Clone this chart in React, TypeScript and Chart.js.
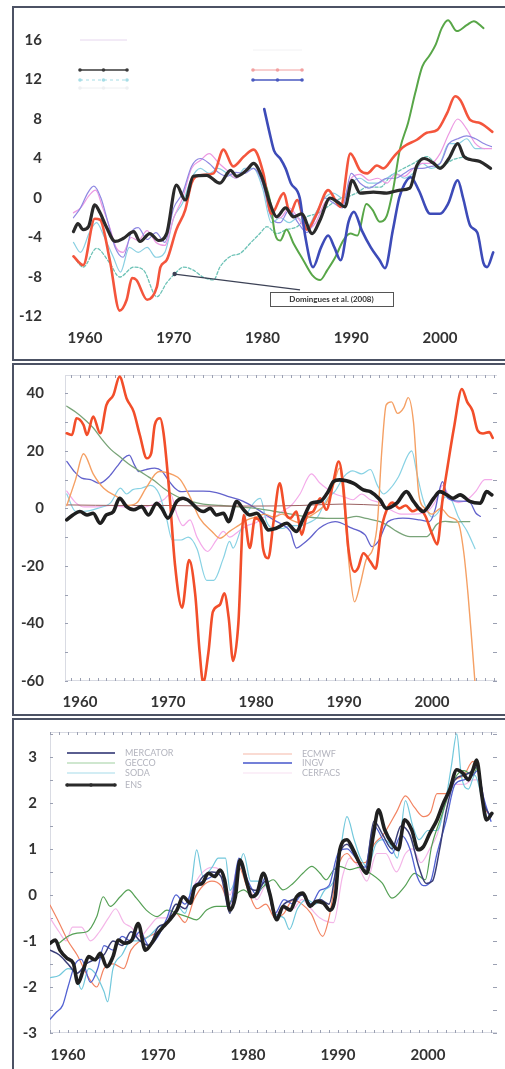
import React, { useEffect, useRef } from "react";
import { Chart, registerables } from "chart.js";

Chart.register(...registerables);

type Pt = [number, number];

// ================= Panel 1 =================
const P1_X_TICKS = [1960, 1970, 1980, 1990, 2000];
const P1_Y_TICKS = [-12, -8, -4, 0, 4, 8, 12, 16];

const P1_ENS: Pt[] = [[1958.7,-3.4],[1959.2,-2.6],[1959.8,-3.2],[1960.4,-2.9],[1961.1,-0.7],[1961.7,-1.5],[1962.4,-2.9],[1963.4,-4.4],[1964.3,-4.1],[1965.5,-3.4],[1966.2,-4.4],[1967.3,-3.6],[1968.3,-4.3],[1969.2,-3.6],[1970.3,1.3],[1971.3,-0.2],[1972.2,2.2],[1973.7,2.3],[1975.2,1.5],[1976.4,2.8],[1977.1,2.2],[1978.2,2.8],[1979,3.5],[1979.9,2.2],[1980.9,-0.7],[1981.6,-1.9],[1982.6,-1.0],[1983.5,-1.9],[1984.4,-1.6],[1985.6,-3.6],[1986.5,-2.2],[1987.6,0],[1988.6,-0.5],[1989.3,-0.9],[1990.1,1.8],[1991,0.5],[1992.5,0.6],[1994,0.5],[1995.5,0.8],[1996.6,1.0],[1997.4,3.3],[1998.2,4.0],[1999.3,3.5],[2000,3.0],[2001,4.0],[2002,5.5],[2002.7,4.2],[2003.4,3.9],[2004.5,3.7],[2005.7,3.0]];
const P1_RED: Pt[] = [[1958.7,-5.9],[1959.8,-6.8],[1961.1,-2.1],[1961.7,-2.2],[1962.8,-6.3],[1963.9,-11.4],[1964.7,-10.3],[1965.3,-8.1],[1965.8,-8.3],[1967,-10.3],[1968.1,-9.0],[1968.5,-7.0],[1969.2,-6.3],[1970.3,-3.2],[1971.3,-1.2],[1972,1.5],[1973,2.3],[1974.5,2.5],[1975.6,4.9],[1976.7,3.2],[1977.9,4.2],[1979,4.9],[1980.1,2.5],[1981,-1.6],[1982.4,0.5],[1983.1,-1.6],[1983.9,-0.2],[1985,-3.2],[1986.1,-1.6],[1987.4,0.8],[1988.8,-0.9],[1989.9,4.5],[1991,2.8],[1991.8,2.5],[1992.9,3.3],[1993.6,3.0],[1994.8,4.2],[1995.9,5.2],[1997.4,5.9],[1998.5,6.6],[1999.7,6.9],[2000.8,8.6],[2001.7,10.3],[2002.3,9.9],[2003.4,7.9],[2004.5,7.6],[2005.9,6.7]];
const P1_GREEN: Pt[] = [[1979.5,3.0],[1980.3,1.5],[1980.9,-0.5],[1981.4,-3.6],[1982,-4.3],[1982.7,-3.2],[1983.5,-4.6],[1984.6,-6.3],[1985.6,-7.8],[1986.5,-8.3],[1987.3,-7.3],[1988.2,-6.0],[1989.1,-4.3],[1989.9,-3.6],[1990.7,-3.8],[1991.7,-0.6],[1992.4,-1.2],[1993.2,-2.4],[1994,-1.8],[1994.7,0.8],[1995.5,5.0],[1996.4,7.6],[1997.2,10.6],[1998,13.3],[1998.8,14.4],[1999.5,15.5],[2000.2,17.2],[2000.9,18.0],[2001.9,16.9],[2003,17.5],[2003.8,17.9],[2004.9,17.2]];
const P1_BLUE: Pt[] = [[1980.2,9.0],[1980.8,6.6],[1981.3,4.8],[1982,4.0],[1982.6,3.0],[1983.2,1.5],[1984.2,0.0],[1984.8,-3.8],[1985.7,-7.0],[1986.6,-5.0],[1987.4,-3.8],[1988.1,-5.0],[1988.8,-6.3],[1989.7,-2.4],[1990.3,-1.4],[1991.2,-3.3],[1992.2,-5.0],[1993.2,-6.3],[1993.8,-7.1],[1994.7,-3.2],[1995.4,0.0],[1996,1.4],[1996.7,2.1],[1997.6,0.8],[1998.9,-1.6],[2000,-1.6],[2000.9,-0.6],[2002,1.8],[2002.6,0.0],[2003.4,-2.8],[2004.2,-3.5],[2004.9,-6.6],[2005.3,-7.0],[2006,-5.5]];
const P1_PINK: Pt[] = [[1958.7,-1.5],[1959.5,-1.0],[1960.5,0.3],[1961.2,0.8],[1962,-1.0],[1962.8,-3.0],[1963.5,-5.0],[1964.3,-5.5],[1965.2,-4.0],[1966,-4.3],[1967,-3.3],[1968,-4.5],[1969,-4.8],[1970,-2.0],[1971,0.0],[1972,3.0],[1973,3.8],[1974,4.5],[1975,3.6],[1976,2.8],[1977,2.0],[1978,2.8],[1979,3.5],[1980,2.0],[1981,-1.5],[1982,-2.0],[1983,-1.0],[1984,-2.0],[1985,-3.2],[1986,-2.5],[1987,-0.5],[1988,0.0],[1989,-0.6],[1990,2.0],[1991,2.4],[1992,1.8],[1993,2.0],[1994,1.5],[1995,2.4],[1996,2.2],[1997,3.0],[1998,3.5],[1999,3.5],[2000,4.5],[2001,6.5],[2002,8.0],[2003,7.0],[2004,5.5],[2005,5.0],[2005.8,5.0]];
const P1_PURPLE: Pt[] = [[1958.7,-2.0],[1959.5,-1.0],[1960.3,0.5],[1961,1.2],[1961.8,0.0],[1962.6,-2.5],[1963.4,-5.0],[1964.3,-6.0],[1965.2,-3.5],[1966,-3.0],[1967,-4.2],[1968,-3.5],[1969,-4.5],[1970,-1.0],[1971,0.5],[1972,3.2],[1973,4.0],[1974,3.5],[1975,2.6],[1976,2.2],[1977,2.6],[1978,2.5],[1979,3.0],[1980,1.5],[1981,-2.0],[1982,-2.5],[1983,-1.2],[1984,-2.5],[1985,-3.5],[1986,-2.0],[1987,0.0],[1988,-0.5],[1989,-1.0],[1990,2.5],[1991,1.5],[1992,1.0],[1993,1.5],[1994,2.0],[1995,2.0],[1996,2.5],[1997,3.0],[1998,3.0],[1999,3.2],[2000,3.5],[2001,5.5],[2002,6.0],[2003,6.3],[2004,6.0],[2005,5.5],[2005.8,5.2]];
const P1_CYAN: Pt[] = [[1958.7,-4.5],[1959.5,-5.5],[1960.5,-3.5],[1961.3,-2.5],[1962.2,-4.0],[1963.2,-6.0],[1964,-7.5],[1965,-5.0],[1966,-5.5],[1967,-5.0],[1968,-6.0],[1969,-5.5],[1970,-2.0],[1971,-0.5],[1972,2.0],[1973,3.0],[1974,2.5],[1975,3.0],[1976,2.5],[1977,2.0],[1978,3.0],[1979,3.0],[1980,1.0],[1981,-2.5],[1982,-2.0],[1983,-2.5],[1984,-2.0],[1985,-3.0],[1986,-1.5],[1987,0.0],[1988,0.5],[1989,0.0],[1990,1.5],[1991,2.0],[1992,1.5],[1993,1.5],[1994,2.0],[1995,2.5],[1996,2.0],[1997,2.5],[1998,3.5],[1999,3.0],[2000,3.5],[2001,5.5],[2002,5.5],[2003,6.0],[2004,5.0],[2005,5.0]];
const P1_OBS: Pt[] = [[1958.7,-5.9],[1959.8,-7.0],[1961.3,-5.1],[1962.8,-6.6],[1963.9,-8.0],[1965.5,-7.0],[1966.6,-7.3],[1968.1,-10.0],[1969.2,-8.6],[1970.2,-7.6],[1971.1,-7.0],[1972.2,-7.3],[1973.3,-8.0],[1974.5,-8.3],[1975.2,-7.0],[1976.4,-5.9],[1977.5,-5.6],[1978.6,-4.6],[1979.7,-3.6],[1980.5,-2.9],[1981.6,-3.6],[1982.7,-3.2],[1983.9,-2.9],[1985,-1.9],[1986.1,-1.6],[1987.3,-0.9],[1988.4,-0.2],[1989.5,0.1],[1990.6,0.5],[1991.8,1.1],[1993.3,1.1],[1994.4,2.2],[1995.5,2.8],[1997,3.5],[1998.5,4.2],[2000,3.2],[2001.5,3.9],[2003,4.2]];

const P1_NOTE_TEXT = "Domingues et al. (2008)";
const P1_NOTE_POINT: Pt = [1970.1, -7.7];
const P1_NOTE_BOX: Pt = [1980.85, -9.5];

// ================= Panel 2 =================
const P2_X_TICKS = [1960, 1970, 1980, 1990, 2000];
const P2_Y_TICKS = [-60, -40, -20, 0, 20, 40];

const P2_BLACK: Pt[] = [[1958.5,-4.0],[1959.2,-2.3],[1960,-1.1],[1960.8,-2.3],[1961.5,-1.7],[1962.3,-5.2],[1963,-2.3],[1963.8,-1.1],[1964.5,3.5],[1965.3,0.6],[1966.1,-0.5],[1967,0.6],[1967.8,-2.3],[1968.7,1.8],[1969.3,0],[1970,-3.4],[1971,2.4],[1971.7,3.5],[1972.5,2.4],[1973.3,0],[1974,-1.1],[1974.8,0],[1975.5,-2.3],[1976.3,-1.7],[1976.9,-4.6],[1977.8,2.4],[1978.6,-0.5],[1979.3,-2.3],[1980.1,-1.7],[1980.8,-4.6],[1981.4,-7.5],[1982.3,-6.9],[1983.5,-5.2],[1984.6,-8.0],[1985.4,-3.4],[1986.3,1.8],[1987.3,2.4],[1988.2,5.8],[1988.8,9.3],[1989.5,9.9],[1991.1,8.7],[1992.2,6.4],[1993,5.8],[1994.1,3.0],[1994.8,0],[1996,1.8],[1997.1,5.8],[1997.9,2.4],[1999,-1.1],[2000.2,3.5],[2000.9,5.8],[2001.7,4.7],[2002.4,3.5],[2003.2,4.7],[2004.3,2.4],[2005.5,1.8],[2006.2,5.8],[2006.8,4.7]];
const P2_RED: Pt[] = [[1958.5,26.1],[1959.1,25.5],[1959.6,31.3],[1960.4,29],[1960.8,25.5],[1961.5,31.9],[1962.3,26.1],[1963,35.9],[1963.8,39.4],[1964.5,45.8],[1965.3,38.2],[1966.1,33.6],[1966.8,25.5],[1967.6,17.4],[1968.1,19.2],[1968.5,29],[1969.1,31.3],[1969.5,26.1],[1970.2,4.0],[1970.8,-19.6],[1971.6,-34.5],[1972.4,-18.0],[1973.1,-30.0],[1973.6,-50.0],[1974,-60.5],[1974.6,-50.0],[1975.1,-36.0],[1975.9,-33.5],[1976.4,-29.5],[1976.9,-38.0],[1977.4,-53.0],[1978,-40.0],[1978.6,-2.3],[1979.3,-13.8],[1979.9,-3.4],[1980.5,-4.6],[1980.8,-13.8],[1981.4,-17.3],[1982,-4.6],[1982.7,8.7],[1983.3,-1.1],[1983.9,-3.4],[1984.6,-1.1],[1985.2,-9.2],[1985.8,-2.3],[1986.5,-1.1],[1987.3,3.5],[1988,-0.5],[1988.8,9.3],[1989.4,16.3],[1989.9,8.2],[1990.5,-13.8],[1991.2,-22],[1991.6,-20.8],[1992.2,-15.6],[1993,-18.5],[1993.6,-21],[1994.2,-8],[1994.8,-1],[1995.5,2],[1996.3,0],[1997,1],[1997.8,-1],[1998.6,0],[1999.3,-3],[1999.9,-8],[2000.6,-12.5],[2001.2,3],[2001.8,15],[2002.5,28],[2003.4,41.5],[2004,37],[2004.6,34],[2005.2,27],[2005.8,26],[2006.5,26.5],[2006.9,24.5]];
const P2_ORANGE: Pt[] = [[1958.5,1],[1959.5,10],[1960.4,19],[1961.5,12],[1962.7,7],[1964.5,3.5],[1965.5,1],[1966.5,2],[1967.5,7],[1969,12.8],[1970.6,11.6],[1971.4,10],[1972.5,4],[1973.6,-3.4],[1975,-8],[1975.9,-10.4],[1977,-8],[1978,-6],[1979,-4],[1980,-3],[1981,-2],[1982,-3],[1983,-2],[1984,-4],[1985,-5],[1986,-3],[1987,-1],[1988,2],[1988.8,8],[1989.5,14],[1990,2],[1990.6,-20],[1991.2,-32.5],[1991.8,-27],[1992.5,-18],[1993.3,-14],[1993.8,-5],[1994.3,20],[1994.8,36],[1995.4,37],[1996.1,33],[1996.8,35],[1997.3,38.5],[1997.9,30],[1998.5,5],[1999.2,0],[2000,-2],[2001,0],[2002,-3],[2003,-5],[2003.6,-15],[2004.1,-30],[2004.5,-45],[2004.9,-61]];
const P2_GREEN: Pt[] = [[1958.5,35.5],[1959.5,33.5],[1960.5,31],[1961.5,28],[1962.5,24],[1963.5,20.5],[1964.5,18],[1965.5,15.5],[1966.5,13.5],[1967.5,11.5],[1968.5,9.5],[1969.5,7],[1970.5,5],[1971.5,3.5],[1972.5,2.5],[1974,1.5],[1976,1],[1978,0.5],[1980,0],[1982,-1],[1984,-2],[1986,-3],[1988,-3.5],[1990,-3.5],[1991.4,-2.8],[1992.5,-3.5],[1994.1,-4.6],[1995,-6],[1996,-8],[1997.5,-9.8],[1999.4,-9.8],[2000,-8],[2000.5,-5.7],[2001.5,-4.5],[2002.5,-4.8],[2003.5,-4.6],[2004.3,-4.6]];
const P2_BLUE: Pt[] = [[1958.5,16.3],[1959.3,13],[1960.2,10.5],[1961.2,10],[1962.2,8.7],[1963.3,11],[1964.2,14.5],[1965,17.5],[1965.6,18.5],[1966.2,15],[1966.7,12.8],[1967.5,13.5],[1968.5,14],[1969.3,13],[1970,10],[1970.8,7],[1971.5,5.8],[1972.5,6],[1974,6],[1975.5,5.5],[1977,4],[1978.5,2.5],[1980,0],[1981,-2],[1982,-4],[1983.2,-6],[1983.9,-8],[1984.6,-13.8],[1985.3,-12.5],[1986.1,-10.4],[1987.2,-6.9],[1989,-4.6],[1990.9,-6.9],[1992.4,-9.2],[1993.2,-13.3],[1993.9,-11.5],[1995,-4.6],[1996.7,-3.4],[1998.6,-4.0],[1999.7,-4.6],[2000.4,0],[2000.8,5.8],[2001.2,9.3],[2001.8,3.5],[2003,2.5],[2004.2,2.4],[2005,-1.7],[2005.5,-2.8]];
const P2_CYAN: Pt[] = [[1958.5,5],[1959.5,-1],[1960.5,-1],[1962,0],[1963.5,2],[1964.6,7],[1965.3,5],[1966,6.5],[1967,7],[1968,8],[1969,5],[1969.8,-3],[1970.5,-11],[1971.5,-11],[1972.3,-10],[1973.3,-14],[1974.4,-25],[1975.2,-25],[1976.3,-17.3],[1977,-11.5],[1977.4,-13.8],[1978.2,-8],[1978.9,-2.3],[1980.5,3.5],[1981.2,-4.6],[1982,-7],[1983,-7],[1984,-6],[1985,-6],[1986,-5],[1987,-3],[1988,3],[1989,6],[1990,11],[1991,13],[1992,12],[1993,13.5],[1993.8,8],[1994.5,5],[1995.3,7],[1996.2,11],[1997.7,20],[1998.3,12],[1999,3],[2000,-3],[2000.8,-1],[2001.5,4],[2002.2,3],[2003,-3],[2004,-8],[2004.9,-14]];
const P2_PINK: Pt[] = [[1958.5,6],[1959.5,2],[1960.5,0.5],[1962,0.5],[1963.5,1],[1965,0.5],[1966.5,0],[1968,1],[1969.5,3],[1970.3,5],[1971,-2],[1971.7,-6],[1972.5,-4],[1973.3,-10],[1974.5,-15],[1975.5,-11],[1976.3,-8],[1977,-10],[1978,-8],[1979,-6],[1980,-5],[1981,-3],[1982,-3],[1983,-1],[1984,1],[1985,5],[1986.3,12],[1987.2,9],[1988,7],[1989,5],[1990,4],[1991,3],[1992,5],[1993,3],[1994,2],[1995,0],[1996.5,-2],[1998,-2],[1999.5,-1],[2000.5,3],[2001.2,8],[2002,4],[2003,2],[2004,3],[2005,6],[2006,10],[2006.8,10]];
const P2_FLAT: Pt[] = [[1958.5,1.2],[1965,1.0],[1970,1.0],[1975,0.8],[1980,0.8],[1985,1.0],[1990,1.5],[1994.5,1.0]];

// ================= Panel 3 =================
const P3_X_TICKS = [1960, 1970, 1980, 1990, 2000];
const P3_Y_TICKS = [-3, -2, -1, 0, 1, 2, 3];

const P3_ENS: Pt[] = [[1958,-1.05],[1958.6,-0.98],[1959.1,-1.2],[1959.9,-1.38],[1960.6,-1.49],[1961.1,-1.92],[1961.7,-1.63],[1962.3,-1.34],[1963,-1.41],[1963.6,-1.27],[1964.3,-1.56],[1965,-1.34],[1965.6,-0.98],[1966.3,-1.05],[1967.1,-0.98],[1967.8,-0.62],[1968.6,-1.2],[1969.3,-1.05],[1970,-0.83],[1970.6,-0.69],[1971.3,-0.54],[1972.1,-0.33],[1972.8,-0.04],[1973.6,-0.18],[1974.1,0.18],[1974.9,0.25],[1975.6,0.47],[1976.3,0.4],[1976.9,0.54],[1977.4,0.33],[1978,-0.33],[1978.6,-0.04],[1979.1,0.76],[1979.9,0.25],[1980.4,-0.04],[1981,0.04],[1981.7,0.47],[1982.4,0.04],[1983.2,-0.54],[1983.9,-0.25],[1984.7,-0.33],[1985.4,-0.04],[1986.1,0.04],[1986.9,-0.25],[1987.6,-0.14],[1988.4,-0.18],[1989.1,-0.33],[1989.7,-0.04],[1990.2,0.98],[1991,1.2],[1991.7,0.98],[1992.4,0.69],[1993.2,0.47],[1993.9,1.27],[1994.5,1.85],[1995.2,1.41],[1996,1.12],[1996.7,0.98],[1997.4,1.63],[1998.2,1.41],[1998.9,0.98],[1999.5,1.05],[2000.2,1.34],[2001,1.63],[2001.7,1.99],[2002.4,2.28],[2003.2,2.72],[2003.9,2.64],[2004.5,2.5],[2005,2.72],[2005.4,2.93],[2006,2.14],[2006.5,1.63],[2007.1,1.77]];
const P3_MERCATOR: Pt[] = [[1958,-1.2],[1959,-1.3],[1960,-1.5],[1961,-1.7],[1962,-1.5],[1963,-1.4],[1964,-1.3],[1965,-1.0],[1966,-1.1],[1967,-0.8],[1968,-1.0],[1969,-1.1],[1970,-0.7],[1971,-0.6],[1972,-0.2],[1973,-0.3],[1974,0.1],[1975,0.4],[1976,0.5],[1977,0.4],[1978,-0.4],[1979,0.7],[1980,0.2],[1981,0.1],[1982,0.3],[1983,-0.5],[1984,-0.2],[1985,-0.1],[1986,0.0],[1987,-0.2],[1988,-0.1],[1989,-0.2],[1990,0.8],[1991,1.1],[1992,0.8],[1993,0.5],[1994,1.6],[1995,1.3],[1996,1.0],[1997,1.5],[1998,1.3],[1999,0.6],[1999.8,0.25],[2000.5,0.3],[2001.3,1.0],[2002,1.8],[2003,2.5],[2004,2.6],[2005,2.7],[2005.5,2.8],[2006.2,2.0],[2007,1.7]];
const P3_GECCO: Pt[] = [[1959,-1.05],[1960,-0.9],[1961,-0.83],[1962.1,-0.8],[1963.2,-0.47],[1963.9,-0.04],[1964.7,-0.25],[1965.8,-0.04],[1966.7,0.11],[1967.6,-0.07],[1968.7,-0.33],[1969.9,-0.47],[1971,-0.33],[1972.1,-0.4],[1973.2,-0.47],[1974.3,-0.54],[1975.4,-0.33],[1976.5,-0.25],[1977.6,-0.25],[1978.4,-0.04],[1979.5,0.11],[1980.6,-0.04],[1981.7,0.18],[1982.8,0.33],[1983.9,0.11],[1985,0.25],[1986.1,0.47],[1987.1,0.62],[1988,0.47],[1988.7,0.33],[1989.5,0.54],[1990.2,0.62],[1991.3,0.55],[1992.4,0.6],[1993,0.54],[1994.9,0.26],[1996,-0.07],[1997.4,0.18],[1998.5,0.47],[1999.7,0.33],[2000.4,1.05],[2001.6,1.77],[2002.5,2.3],[2003.2,2.6],[2004,2.7],[2005,2.6],[2005.5,2.8]];
const P3_SODA: Pt[] = [[1958,-1.8],[1959,-1.75],[1960,-1.6],[1960.8,-1.7],[1961.5,-2.05],[1962.3,-1.6],[1963,-1.7],[1964,-2.1],[1964.4,-2.32],[1965,-1.6],[1966,-1.3],[1967,-1.0],[1968,-1.0],[1969,-0.9],[1970,-0.7],[1971,-0.6],[1972,-0.2],[1973,-0.4],[1973.7,0.2],[1974.3,0.98],[1975,0.4],[1976,0.6],[1976.7,0.8],[1977.5,0.8],[1978,0.1],[1979,0.6],[1979.5,0.9],[1980.3,0.3],[1981,0.3],[1982,0.2],[1983,-0.4],[1984,-0.5],[1984.6,-0.75],[1985.5,-0.3],[1986.5,-0.1],[1987.5,-0.2],[1988.5,0.1],[1989.5,0.3],[1990.2,0.9],[1991,1.7],[1991.8,1.2],[1992.5,0.8],[1993.3,0.6],[1994.2,1.1],[1995,1.2],[1995.8,1.1],[1996.6,0.8],[1997.5,2.05],[1998.3,1.5],[1999,1.2],[2000,1.4],[2001,1.4],[2002,2.1],[2002.6,2.8],[2003.2,3.5],[2003.7,2.6],[2004.5,2.3],[2005.2,2.6],[2006,2.1],[2006.5,1.7]];
const P3_ECMWF: Pt[] = [[1958,-0.22],[1959,-0.6],[1960,-1.0],[1961,-1.3],[1962.3,-1.8],[1963.2,-2.0],[1964,-1.6],[1965,-1.5],[1966.2,-1.6],[1967,-1.2],[1968,-1.0],[1969,-0.9],[1970,-0.8],[1971,-0.6],[1972,-0.4],[1973,-0.6],[1974,-0.1],[1975,0.2],[1976,0.3],[1977,0.2],[1978,-0.2],[1979,0.6],[1980,0.1],[1981,-0.3],[1982,-0.2],[1983,-0.5],[1984,-0.4],[1985,-0.1],[1986,-0.2],[1987,-0.4],[1988.3,-0.9],[1989,-0.5],[1990,0.6],[1991,0.9],[1992,0.7],[1993,0.7],[1994,1.1],[1995,1.3],[1996.5,1.8],[1997.5,2.15],[1998.5,1.9],[1999.5,1.7],[2000.3,1.8],[2001,2.2],[2002,2.2],[2003,2.5],[2004,2.6],[2005,2.9],[2005.7,2.6],[2006.3,1.9],[2006.8,1.75]];
const P3_INGV: Pt[] = [[1958,-2.7],[1958.7,-2.55],[1959.4,-2.4],[1960,-2.0],[1960.8,-1.5],[1961.5,-1.4],[1962.5,-1.9],[1963.3,-1.6],[1964,-1.1],[1965,-1.2],[1966,-0.9],[1967,-1.0],[1968,-0.8],[1969,-1.1],[1970,-0.9],[1971,-0.5],[1972,0.0],[1973,-0.2],[1974,0.2],[1975,0.3],[1976,0.4],[1977,0.5],[1978,-0.2],[1979,0.8],[1980,0.3],[1981,0.0],[1982,0.4],[1983,-0.4],[1984,-0.1],[1985,-0.2],[1986,0.0],[1987,-0.2],[1988,0.1],[1989,0.2],[1990,0.9],[1991,1.0],[1992,0.8],[1993,0.6],[1994,1.5],[1995,1.2],[1996,0.9],[1997,1.3],[1998,1.0],[1998.8,0.4],[1999.5,0.2],[2000.3,0.3],[2001,0.9],[2002,1.6],[2003,2.4],[2004,2.5],[2005,2.6],[2005.5,2.7],[2006.2,2.1],[2007,1.6]];
const P3_CERFACS: Pt[] = [[1958,-0.5],[1959,-0.8],[1959.8,-1.0],[1960.5,-0.7],[1961.5,-0.7],[1962.5,-1.0],[1963.5,-0.8],[1964.5,-0.5],[1965.3,-0.3],[1966.2,-0.6],[1967,-0.7],[1968,-0.9],[1969,-0.7],[1970,-0.5],[1971,-0.5],[1972,-0.2],[1973,-0.3],[1974,0.2],[1975,0.5],[1976,0.6],[1977,0.5],[1978,0.0],[1979,0.7],[1980,0.2],[1981,-0.1],[1982,0.2],[1983,-0.4],[1984,-0.3],[1985,-0.3],[1986,-0.1],[1987,-0.3],[1988,-0.5],[1989.5,-0.6],[1990.5,0.4],[1991.3,0.8],[1992.3,0.6],[1993.2,0.3],[1994.3,0.9],[1995.3,0.9],[1996.5,0.5],[1997.5,0.9],[1998.3,1.0],[1999.2,0.7],[2000.2,1.0],[2001,1.3],[2002,2.0],[2003,2.4],[2004,2.4],[2005,2.5],[2005.7,2.5],[2006.3,2.0]];

const P3_LEGEND_LABELS = ["MERCATOR", "GECCO", "SODA", "ENS", "ECMWF", "INGV", "CERFACS"];

// ================= Config helpers =================
interface Series { data: Pt[]; color: string; width: number; dash?: number[]; }
interface LegendItem { x1: number; x2: number; y: number; color: string; width: number; dash?: number[]; markers?: number; label?: string; }

const FONT = 'Lato, "Open Sans", "DejaVu Sans", sans-serif';

const legendPlugin = (items: LegendItem[]) => ({
  id: "customLegend",
  afterDatasetsDraw(chart: any) {
    const ctx = chart.ctx;
    ctx.save();
    for (const it of items) {
      ctx.strokeStyle = it.color;
      ctx.lineWidth = it.width;
      ctx.setLineDash(it.dash || []);
      ctx.beginPath();
      ctx.moveTo(it.x1, it.y);
      ctx.lineTo(it.x2, it.y);
      ctx.stroke();
      ctx.setLineDash([]);
      if (it.markers) {
        ctx.fillStyle = it.color;
        for (let i = 0; i < it.markers; i++) {
          const mx = it.x1 + ((it.x2 - it.x1) * i) / Math.max(1, it.markers - 1);
          ctx.beginPath();
          ctx.arc(mx, it.y, 1.8, 0, Math.PI * 2);
          ctx.fill();
        }
      }
      if (it.label) {
        ctx.fillStyle = "#b3b4be";
        ctx.font = `9px ${FONT}`;
        ctx.textBaseline = "middle";
        ctx.fillText(it.label, it.x2 + 10, it.y);
      }
    }
    ctx.restore();
  },
});

const framePlugin = (minorX: number, minorY: number) => ({
  id: "frame",
  beforeDatasetsDraw(chart: any) {
    const { ctx, chartArea: a, scales } = chart;
    const xs = scales.x;
    const ys = scales.y;
    ctx.save();
    ctx.lineWidth = 1;
    ctx.strokeStyle = "#d9dbe3";
    ctx.beginPath();
    ctx.moveTo(a.left, a.top + 0.5); ctx.lineTo(a.right, a.top + 0.5);
    ctx.moveTo(a.left, a.bottom - 0.5); ctx.lineTo(a.right, a.bottom - 0.5);
    ctx.moveTo(a.left + 0.5, a.top); ctx.lineTo(a.left + 0.5, a.bottom);
    ctx.stroke();
    ctx.strokeStyle = "#9ba0b2";
    ctx.beginPath();
    for (let v = Math.ceil(xs.min); v <= xs.max; v += minorX) {
      const px = Math.round(xs.getPixelForValue(v)) + 0.5;
      ctx.moveTo(px, a.top); ctx.lineTo(px, a.top + 3);
      ctx.moveTo(px, a.bottom); ctx.lineTo(px, a.bottom - 3);
    }
    const k0 = Math.ceil(ys.min / minorY);
    const k1 = Math.floor(ys.max / minorY);
    for (let k = k0; k <= k1; k++) {
      const py = Math.round(ys.getPixelForValue(k * minorY)) + 0.5;
      ctx.moveTo(a.left, py); ctx.lineTo(a.left + 3, py);
      ctx.moveTo(a.right - 4, py); ctx.lineTo(a.right, py);
    }
    ctx.stroke();
    ctx.restore();
  },
});

const notePlugin = (text: string, point: Pt, box: Pt) => ({
  id: "note",
  afterDatasetsDraw(chart: any) {
    const { ctx, scales } = chart;
    const px = scales.x.getPixelForValue(point[0]);
    const py = scales.y.getPixelForValue(point[1]);
    const bx = scales.x.getPixelForValue(box[0]);
    const by = scales.y.getPixelForValue(box[1]);
    const bw = 123;
    const bh = 14;
    ctx.save();
    ctx.strokeStyle = "#3c4256";
    ctx.lineWidth = 1.2;
    ctx.beginPath();
    ctx.moveTo(bx + 30, by - 2);
    ctx.lineTo(px, py);
    ctx.stroke();
    ctx.fillStyle = "#3c4256";
    ctx.beginPath();
    ctx.arc(px, py, 2.2, 0, Math.PI * 2);
    ctx.fill();
    ctx.fillStyle = "#ffffff";
    ctx.fillRect(bx, by, bw, bh);
    ctx.strokeStyle = "#555";
    ctx.lineWidth = 1;
    ctx.strokeRect(Math.round(bx) + 0.5, Math.round(by) + 0.5, bw, bh);
    ctx.fillStyle = "#333";
    ctx.font = `bold 8px ${FONT}`;
    ctx.textAlign = "center";
    ctx.textBaseline = "middle";
    ctx.fillText(text, bx + bw / 2, by + bh / 2 + 0.5);
    ctx.restore();
  },
});

interface PanelSpec {
  left: number; top: number; width: number; height: number;
  xMin: number; xMax: number; yMin: number; yMax: number;
  xTicks: number[]; yTicks: number[];
  yAxisWidth: number; xAxisHeight: number; padTop: number; padRight: number;
  yLabelPad: number; xLabelPad: number;
  series: Series[];
  plugins: any[];
}

function buildConfig(spec: PanelSpec): any {
  return {
    type: "line",
    data: {
      datasets: spec.series.map((s) => ({
        data: s.data.map(([x, y]) => ({ x, y })),
        borderColor: s.color,
        backgroundColor: s.color,
        borderWidth: s.width,
        borderDash: s.dash || [],
        pointRadius: 0,
        pointHoverRadius: 0,
        fill: false,
        cubicInterpolationMode: "monotone",
        borderJoinStyle: "round",
        borderCapStyle: "round",
      })),
    },
    options: {
      responsive: false,
      animation: false,
      events: [],
      layout: { padding: { top: spec.padTop, right: spec.padRight, left: 0, bottom: 0 } },
      plugins: { legend: { display: false }, tooltip: { enabled: false } },
      scales: {
        x: {
          type: "linear",
          min: spec.xMin,
          max: spec.xMax,
          afterBuildTicks: (axis: any) => { axis.ticks = spec.xTicks.map((v) => ({ value: v })); },
          afterFit: (axis: any) => { axis.height = spec.xAxisHeight; },
          grid: { display: false, drawTicks: false },
          border: { display: false },
          ticks: {
            autoSkip: false,
            maxRotation: 0,
            padding: spec.xLabelPad,
            color: "#333333",
            font: { family: FONT, size: 15, weight: "bold" },
            callback: (v: any) => String(v),
          },
        },
        y: {
          type: "linear",
          min: spec.yMin,
          max: spec.yMax,
          afterBuildTicks: (axis: any) => { axis.ticks = spec.yTicks.map((v) => ({ value: v })); },
          afterFit: (axis: any) => { axis.width = spec.yAxisWidth; },
          grid: {
            display: true,
            drawOnChartArea: false,
            drawTicks: true,
            tickLength: spec.yLabelPad,
            tickColor: "rgba(0,0,0,0)",
            color: "rgba(0,0,0,0)",
          },
          border: { display: false },
          ticks: {
            autoSkip: false,
            padding: 0,
            color: "#333333",
            font: { family: FONT, size: 15, weight: "bold" },
            callback: (v: any) => String(v),
          },
        },
      },
    },
    plugins: spec.plugins,
  };
}

// ================= Panel specs =================
const PANEL1: PanelSpec = {
  left: 15, top: 8, width: 490, height: 350,
  xMin: 1957.75, xMax: 2006.76, yMin: -12.96, yMax: 18.33,
  xTicks: P1_X_TICKS, yTicks: P1_Y_TICKS,
  yAxisWidth: 50, xAxisHeight: 32, padTop: 9, padRight: 5, yLabelPad: 23, xLabelPad: 3,
  series: [
    { data: P1_ENS, color: "#2a2a2a", width: 3.2 },
    { data: P1_BLUE, color: "#3d4bb8", width: 2.6 },
    { data: P1_RED, color: "#f4553c", width: 2.6 },
    { data: P1_GREEN, color: "#58a648", width: 2.0 },
    { data: P1_PURPLE, color: "#8f88e2", width: 1.2 },
    { data: P1_PINK, color: "#ec98e2", width: 1.2 },
    { data: P1_CYAN, color: "#8ad0e2", width: 1.2 },
    { data: P1_OBS, color: "#6cc2b6", width: 1.3, dash: [3, 2] },
  ],
  plugins: [
    legendPlugin([
      { x1: 65, x2: 112, y: 32, color: "#e6d6ee", width: 1 },
      { x1: 65, x2: 112, y: 62, color: "#3a3a3a", width: 1.3, markers: 3 },
      { x1: 65, x2: 112, y: 72, color: "#a6dde6", width: 1, dash: [3, 3], markers: 3 },
      { x1: 65, x2: 112, y: 80, color: "#eef0f2", width: 1, markers: 3 },
      { x1: 238, x2: 287, y: 42, color: "#f2f2f4", width: 1 },
      { x1: 238, x2: 287, y: 62, color: "#f2a0a0", width: 1, markers: 3 },
      { x1: 238, x2: 287, y: 72, color: "#4a5ac0", width: 1.3, markers: 3 },
    ]),
    notePlugin(P1_NOTE_TEXT, P1_NOTE_POINT, P1_NOTE_BOX),
  ],
};

const PANEL2: PanelSpec = {
  left: 15, top: 365, width: 490, height: 349,
  xMin: 1958.3, xMax: 2007.39, yMin: -60, yMax: 46.35,
  xTicks: P2_X_TICKS, yTicks: P2_Y_TICKS,
  yAxisWidth: 50, xAxisHeight: 33, padTop: 10, padRight: 8, yLabelPad: 21, xLabelPad: 12,
  series: [
    { data: P2_BLACK, color: "#1f1f1f", width: 3.6 },
    { data: P2_RED, color: "#f24e2a", width: 2.6 },
    { data: P2_ORANGE, color: "#f5a064", width: 1.4 },
    { data: P2_FLAT, color: "#9a6060", width: 1.0 },
    { data: P2_GREEN, color: "#79a479", width: 1.3 },
    { data: P2_BLUE, color: "#6262cc", width: 1.3 },
    { data: P2_CYAN, color: "#88d2e4", width: 1.2 },
    { data: P2_PINK, color: "#f4aaea", width: 1.2 },
  ],
  plugins: [framePlugin(1, 10)],
};

const PANEL3: PanelSpec = {
  left: 15, top: 720, width: 490, height: 349,
  xMin: 1958.0, xMax: 2007.67, yMin: -3, yMax: 3.54,
  xTicks: P3_X_TICKS, yTicks: P3_Y_TICKS,
  yAxisWidth: 35, xAxisHeight: 36, padTop: 12, padRight: 8, yLabelPad: 13, xLabelPad: 13,
  series: [
    { data: P3_ENS, color: "#202020", width: 3.6 },
    { data: P3_MERCATOR, color: "#3a3e78", width: 1.5 },
    { data: P3_INGV, color: "#5262d2", width: 1.3 },
    { data: P3_GECCO, color: "#55a055", width: 1.2 },
    { data: P3_SODA, color: "#72c8dc", width: 1.2 },
    { data: P3_ECMWF, color: "#f28462", width: 1.2 },
    { data: P3_CERFACS, color: "#f4b6e8", width: 1.2 },
  ],
  plugins: [
    framePlugin(1, 0.5),
    legendPlugin([
      { x1: 52, x2: 100, y: 33, color: "#5a5e90", width: 2, label: P3_LEGEND_LABELS[0] },
      { x1: 52, x2: 100, y: 43, color: "#9fd0a0", width: 1.2, label: P3_LEGEND_LABELS[1] },
      { x1: 52, x2: 100, y: 53, color: "#a6dcea", width: 1.2, label: P3_LEGEND_LABELS[2] },
      { x1: 52, x2: 100, y: 65, color: "#2a2a2a", width: 3, markers: 3, label: P3_LEGEND_LABELS[3] },
      { x1: 228, x2: 277, y: 34, color: "#f6b8a8", width: 1.2, label: P3_LEGEND_LABELS[4] },
      { x1: 228, x2: 277, y: 43, color: "#7480d8", width: 2, label: P3_LEGEND_LABELS[5] },
      { x1: 228, x2: 277, y: 53, color: "#f8e0f2", width: 1.2, label: P3_LEGEND_LABELS[6] },
    ]),
  ],
};

function PanelChart({ spec }: { spec: PanelSpec }) {
  const ref = useRef<HTMLCanvasElement | null>(null);
  useEffect(() => {
    if (!ref.current) return;
    const chart = new Chart(ref.current, buildConfig(spec));
    return () => chart.destroy();
  }, [spec]);
  return (
    <canvas
      ref={ref}
      width={spec.width}
      height={spec.height}
      style={{ position: "absolute", left: spec.left, top: spec.top, width: spec.width, height: spec.height }}
    />
  );
}

const boxStyle = (top: number, height: number): React.CSSProperties => ({
  position: "absolute",
  left: 12,
  top,
  width: 500,
  height,
  boxSizing: "border-box",
  border: "2px solid #4c5264",
});

export default function App() {
  return (
    <div style={{ position: "absolute", left: 0, top: 0, width: 505, height: 1069, overflow: "hidden", background: "#fff" }}>
      <div style={boxStyle(6, 355)} />
      <div style={boxStyle(363, 353)} />
      <div style={boxStyle(718, 360)} />
      <PanelChart spec={PANEL1} />
      <PanelChart spec={PANEL2} />
      <PanelChart spec={PANEL3} />
    </div>
  );
}
